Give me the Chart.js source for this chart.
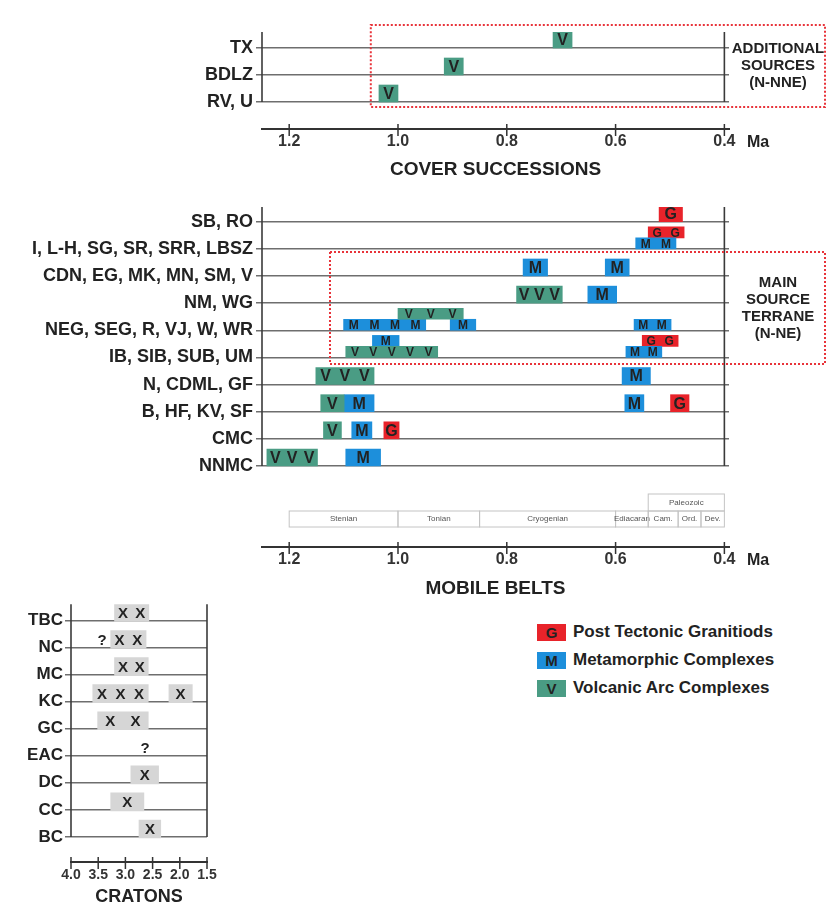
<!DOCTYPE html>
<html>
<head>
<meta charset="utf-8">
<script src="https://cdn.jsdelivr.net/npm/chart.js@4.4.1/dist/chart.umd.min.js"></script>
<style>
  body { margin: 0; background: #fff; width: 827px; height: 921px; position: relative; overflow: hidden;
         font-family: "Liberation Sans", Arial, sans-serif; }
  canvas { position: absolute; left: 0; }
  #cover { top: 0; }
  #belts { top: 190px; }
  #cratons { top: 592px; }
  #legend { position: absolute; left: 537px; top: 618px; }
  #legend div { height: 28px; display: flex; align-items: center; font-weight: bold; font-size: 17px; color: #222; }
  #legend span { display: inline-block; width: 29px; height: 17px; line-height: 17px; text-align: center;
                 font-size: 15px; margin-right: 7px; }
</style>
</head>
<body>
<canvas id="cover" width="827" height="181"></canvas>
<canvas id="belts" width="827" height="410"></canvas>
<canvas id="cratons" width="230" height="329"></canvas>
<div id="legend"></div>
<script>
// ---- rows, top to bottom ----
const coverRows = ['TX', 'BDLZ', 'RV, U'];
const beltRows = ['SB, RO', 'I, L-H, SG, SR, SRR, LBSZ', 'CDN, EG, MK, MN, SM, V', 'NM, WG',
  'NEG, SEG, R, VJ, W, WR', 'IB, SIB, SUB, UM', 'N, CDML, GF', 'B, HF, KV, SF', 'CMC', 'NNMC'];
const cratonRows = ['TBC', 'NC', 'MC', 'KC', 'GC', 'EAC', 'DC', 'CC', 'BC'];

// ---- tick labels ----
const ageTicks = [1.2, 1.0, 0.8, 0.6, 0.4];          // Ma
const cratonTicks = [4.0, 3.5, 3.0, 2.5, 2.0, 1.5];  // Ga

// ---- bars: [row, from, to, number of letters, layer] ----
const coverVolcanic = [
  ['TX', 0.715, 0.68, 1],
  ['BDLZ', 0.915, 0.88, 1],
  ['RV, U', 1.035, 1.0, 1]
];
const beltVolcanic = [
  ['NM, WG', 0.782, 0.698, 3],
  ['NEG, SEG, R, VJ, W, WR', 1.0, 0.88, 3, 'upper'],
  ['IB, SIB, SUB, UM', 1.096, 0.927, 5, 'lower'],
  ['N, CDML, GF', 1.151, 1.044, 3],
  ['B, HF, KV, SF', 1.142, 1.099, 1],
  ['CMC', 1.137, 1.104, 1],
  ['NNMC', 1.241, 1.148, 3]
];
const beltMetamorphic = [
  ['I, L-H, SG, SR, SRR, LBSZ', 0.563, 0.489, 2, 'lower'],
  ['CDN, EG, MK, MN, SM, V', 0.770, 0.725, 1],
  ['CDN, EG, MK, MN, SM, V', 0.619, 0.575, 1],
  ['NM, WG', 0.651, 0.598, 1],
  ['NEG, SEG, R, VJ, W, WR', 1.100, 0.949, 4, 'lower'],
  ['NEG, SEG, R, VJ, W, WR', 0.904, 0.857, 1, 'lower'],
  ['NEG, SEG, R, VJ, W, WR', 0.566, 0.498, 2, 'lower'],
  ['IB, SIB, SUB, UM', 1.047, 0.998, 1, 'upper'],
  ['IB, SIB, SUB, UM', 0.581, 0.515, 2, 'lower'],
  ['N, CDML, GF', 0.588, 0.536, 1],
  ['B, HF, KV, SF', 1.099, 1.044, 1],
  ['B, HF, KV, SF', 0.583, 0.548, 1],
  ['CMC', 1.085, 1.048, 1],
  ['NNMC', 1.096, 1.032, 1]
];
const beltGranitoid = [
  ['SB, RO', 0.520, 0.477, 1],
  ['I, L-H, SG, SR, SRR, LBSZ', 0.540, 0.474, 2, 'upper'],
  ['IB, SIB, SUB, UM', 0.551, 0.485, 2, 'upper'],
  ['B, HF, KV, SF', 0.499, 0.465, 1],
  ['CMC', 1.026, 0.998, 1]
];
const cratonAges = [
  ['TBC', 3.20, 2.57, 2],
  ['NC', 3.27, 2.62, 2],
  ['MC', 3.20, 2.58, 2],
  ['KC', 3.60, 2.58, 3],
  ['KC', 2.20, 1.77, 1],
  ['GC', 3.51, 2.58, 2],
  ['DC', 2.90, 2.39, 1],
  ['CC', 3.27, 2.66, 1],
  ['BC', 2.75, 2.35, 1]
];
const cratonUncertain = [['NC', 3.43], ['EAC', 2.64]];

// ---- time scale under the mobile belts ----
const periodNames = ['Stenian', 'Tonian', 'Cryogenian', 'Ediacaran', 'Cam.', 'Ord.', 'Dev.'];
const periodBounds = [1.2, 1.0, 0.85, 0.6, 0.54, 0.485, 0.443, 0.4];
const eraName = 'Paleozoic';
const eraSpan = [0.54, 0.4];

const legendItems = [['G', 'Post Tectonic Granitiods'], ['M', 'Metamorphic Complexes'], ['V', 'Volcanic Arc Complexes']];

const FONT = '"Liberation Sans", Arial, Helvetica, sans-serif';
const INK = '#222';
const COLORS = { V: '#4a9c84', M: '#1d8fdb', G: '#e8232a', X: '#d6d6d6' };
Chart.defaults.font.family = FONT;
Chart.defaults.animation = false;

// bar layers: thickness and lift above the row line, in px
const BELT_LAYERS = {
  full: { thick: 17, lift: 8.5, font: 16 },
  lower: { thick: 11, lift: 5.5, font: 12 },
  upper: { thick: 11, lift: 16.5, font: 12 }
};
const CRATON_LAYERS = { full: { thick: 18, lift: 8, font: 15 } };

function barSets(list, rows, letter, rowPx, layers) {
  return Object.keys(layers).map(name => {
    const L = layers[name];
    const data = list.filter(b => (b[4] || 'full') === name)
      .map(b => ({ x: [b[1], b[2]], y: rows.indexOf(b[0]) - L.lift / rowPx, n: b[3] }));
    return { data, letter, letterFont: L.font, backgroundColor: COLORS[letter],
             barThickness: L.thick, grouped: false, borderWidth: 0 };
  }).filter(d => d.data.length);
}

// letters written inside the bars
const letterPlugin = {
  id: 'letters',
  afterDatasetsDraw(chart) {
    const ctx = chart.ctx;
    chart.data.datasets.forEach((ds, i) => {
      if (!ds.letter) return;
      ctx.save();
      ctx.font = `bold ${ds.letterFont}px ${FONT}`;
      ctx.fillStyle = INK;
      ctx.textAlign = 'center';
      ctx.textBaseline = 'middle';
      chart.getDatasetMeta(i).data.forEach((el, j) => {
        const { x, base, y } = el.getProps(['x', 'base', 'y'], true);
        const n = ds.data[j].n;
        const l = Math.min(x, base), w = Math.abs(x - base);
        for (let k = 0; k < n; k++) ctx.fillText(ds.letter, l + w * (k + 0.5) / n, y + 1);
      });
      ctx.restore();
    });
  }
};

// frame lines, crossing ticks, dotted boxes, notes
function framePlugin(cfg) {
  return {
    id: 'frame',
    afterDraw(chart) {
      const { ctx } = chart, x = chart.scales.x, y = chart.scales.y;
      const line = (x1, y1, x2, y2) => { ctx.beginPath(); ctx.moveTo(x1, y1); ctx.lineTo(x2, y2); ctx.stroke(); };
      const ay = x.top + 1;
      ctx.save();
      ctx.strokeStyle = '#3a3a3a';
      ctx.lineWidth = 1.6;
      const last = y.getPixelForValue(cfg.rows.length - 1);
      cfg.sides.forEach(v => { const px = x.getPixelForValue(v); line(px, y.top, px, last); });

      ctx.strokeStyle = '#333';
      ctx.lineWidth = 1.5;
      x.ticks.forEach(t => { const px = x.getPixelForValue(t.value); line(px, ay - 6, px, ay + 6); });

      if (cfg.unit) {
        ctx.font = `bold 16px ${FONT}`;
        ctx.fillStyle = INK;
        ctx.textAlign = 'left';
        ctx.textBaseline = 'middle';
        ctx.fillText(cfg.unit, x.right + 18, ay + 12.5);
      }

      if (cfg.box) {
        const b = cfg.box;
        const l = x.getPixelForValue(b.from), r = chart.width - 2;
        const t = y.getPixelForValue(b.top), bt = y.getPixelForValue(b.bottom);
        ctx.strokeStyle = '#e8333a';
        ctx.lineWidth = 2;
        ctx.setLineDash([2, 2]);
        ctx.strokeRect(l, t, r - l, bt - t);
        ctx.setLineDash([]);
        ctx.font = `bold 15px ${FONT}`;
        ctx.fillStyle = INK;
        ctx.textAlign = 'center';
        ctx.textBaseline = 'middle';
        const cx = (x.right + chart.width) / 2, cy = (t + bt) / 2;
        b.note.forEach((s, i) => ctx.fillText(s, cx, cy + (i - (b.note.length - 1) / 2) * 17));
      }

      if (cfg.periods) {
        ctx.strokeStyle = '#c4c4c4';
        ctx.lineWidth = 1;
        ctx.font = `8px ${FONT}`;
        ctx.fillStyle = '#555';
        ctx.textAlign = 'center';
        ctx.textBaseline = 'middle';
        const top = ay - 37, bot = ay - 21;
        periodNames.forEach((name, i) => {
          const a = x.getPixelForValue(periodBounds[i]), b = x.getPixelForValue(periodBounds[i + 1]);
          ctx.strokeRect(a, top, b - a, bot - top);
          ctx.fillText(name, (a + b) / 2, (top + bot) / 2);
        });
        const ea = x.getPixelForValue(eraSpan[0]), eb = x.getPixelForValue(eraSpan[1]);
        ctx.strokeRect(ea, top - 17, eb - ea, 17);
        ctx.fillText(eraName, (ea + eb) / 2, top - 8.5);
      }

      if (cfg.marks) {
        ctx.font = `bold 15px ${FONT}`;
        ctx.fillStyle = INK;
        ctx.textAlign = 'center';
        ctx.textBaseline = 'middle';
        cfg.marks.forEach(([row, v]) => {
          ctx.fillText('?', x.getPixelForValue(v), y.getPixelForValue(cfg.rows.indexOf(row)) - 7);
        });
      }
      ctx.restore();
    }
  };
}

function rowAxis(rows, rowPx, gap, plotH, width, fontSize, pad) {
  const min = -gap / rowPx;
  return {
    type: 'linear', reverse: true, bounds: 'data', offset: false,
    min, max: min + plotH / rowPx,
    afterBuildTicks: s => { s.ticks = rows.map((_, i) => ({ value: i })); },
    afterFit: s => { s.width = width; },
    ticks: { callback: v => rows[v], autoSkip: false, padding: pad, color: INK,
             font: { weight: 'bold', size: fontSize } },
    grid: { color: '#6e6e6e', lineWidth: 1.5, tickLength: 6, offset: false },
    border: { display: false }
  };
}

function ageAxis(ticks, min, max, height, title, fontSize, pad, titleSize, titlePad) {
  return {
    type: 'linear', reverse: true, bounds: 'data', min, max,
    afterBuildTicks: s => { s.ticks = ticks.map(v => ({ value: v })); },
    afterFit: s => { s.height = height; },
    ticks: { callback: v => v.toFixed(1), autoSkip: false, maxRotation: 0, padding: pad, color: '#333',
             font: { weight: 'bold', size: fontSize } },
    grid: { display: false, drawTicks: false },
    border: { display: true, color: '#333', width: 2 },
    title: { display: true, text: title, color: INK, padding: { top: 0, bottom: titlePad },
             font: { weight: 'bold', size: titleSize } }
  };
}

function makeChart(id, datasets, scales, padding, plugins) {
  return new Chart(document.getElementById(id), {
    type: 'bar',
    data: { datasets },
    options: {
      indexAxis: 'y', responsive: false, maintainAspectRatio: false,
      layout: { padding },
      scales,
      plugins: { legend: { display: false }, tooltip: { enabled: false } }
    },
    plugins: [letterPlugin, ...plugins]
  });
}

// cover successions
makeChart('cover',
  barSets(coverVolcanic, coverRows, 'V', 27, BELT_LAYERS),
  { y: rowAxis(coverRows, 27, 16, 97, 262, 18, 3),
    x: ageAxis(ageTicks, 0.3915, 1.25, 52, 'COVER SUCCESSIONS', 16, 3, 19, 0) },
  { top: 32, right: 98, left: 0, bottom: 0 },
  [framePlugin({ rows: coverRows, sides: [1.25, 0.4], unit: 'Ma',
    box: { from: 1.05, top: -0.85, bottom: 2.185, note: ['ADDITIONAL', 'SOURCES', '(N-NNE)'] } })]);

// mobile belts
makeChart('belts',
  [...barSets(beltVolcanic, beltRows, 'V', 27.14, BELT_LAYERS),
   ...barSets(beltMetamorphic, beltRows, 'M', 27.14, BELT_LAYERS),
   ...barSets(beltGranitoid, beltRows, 'G', 27.14, BELT_LAYERS)],
  { y: rowAxis(beltRows, 27.14, 14.7, 340, 262, 18, 3),
    x: ageAxis(ageTicks, 0.3915, 1.25, 53, 'MOBILE BELTS', 16, 3, 19, 0) },
  { top: 17, right: 98, left: 0, bottom: 0 },
  [framePlugin({ rows: beltRows, sides: [1.25, 0.4], unit: 'Ma', periods: true,
    box: { from: 1.125, top: 1.116, bottom: 5.243, note: ['MAIN', 'SOURCE', 'TERRANE', '(N-NE)'] } })]);

// cratons
makeChart('cratons',
  barSets(cratonAges, cratonRows, 'X', 27.3, CRATON_LAYERS),
  { y: rowAxis(cratonRows, 27.3, 16.3, 260, 71, 17, 2),
    x: ageAxis(cratonTicks, 1.5, 4.0, 59, 'CRATONS', 14, 5, 18, 13) },
  { top: 10, right: 23, left: 0, bottom: 0 },
  [framePlugin({ rows: cratonRows, sides: [4.0, 1.5], marks: cratonUncertain })]);

// legend
const legend = document.getElementById('legend');
legendItems.forEach(([k, text]) => {
  const row = document.createElement('div');
  const box = document.createElement('span');
  box.textContent = k;
  box.style.background = COLORS[k];
  row.appendChild(box);
  row.appendChild(document.createTextNode(text));
  legend.appendChild(row);
});
</script>
</body>
</html>
